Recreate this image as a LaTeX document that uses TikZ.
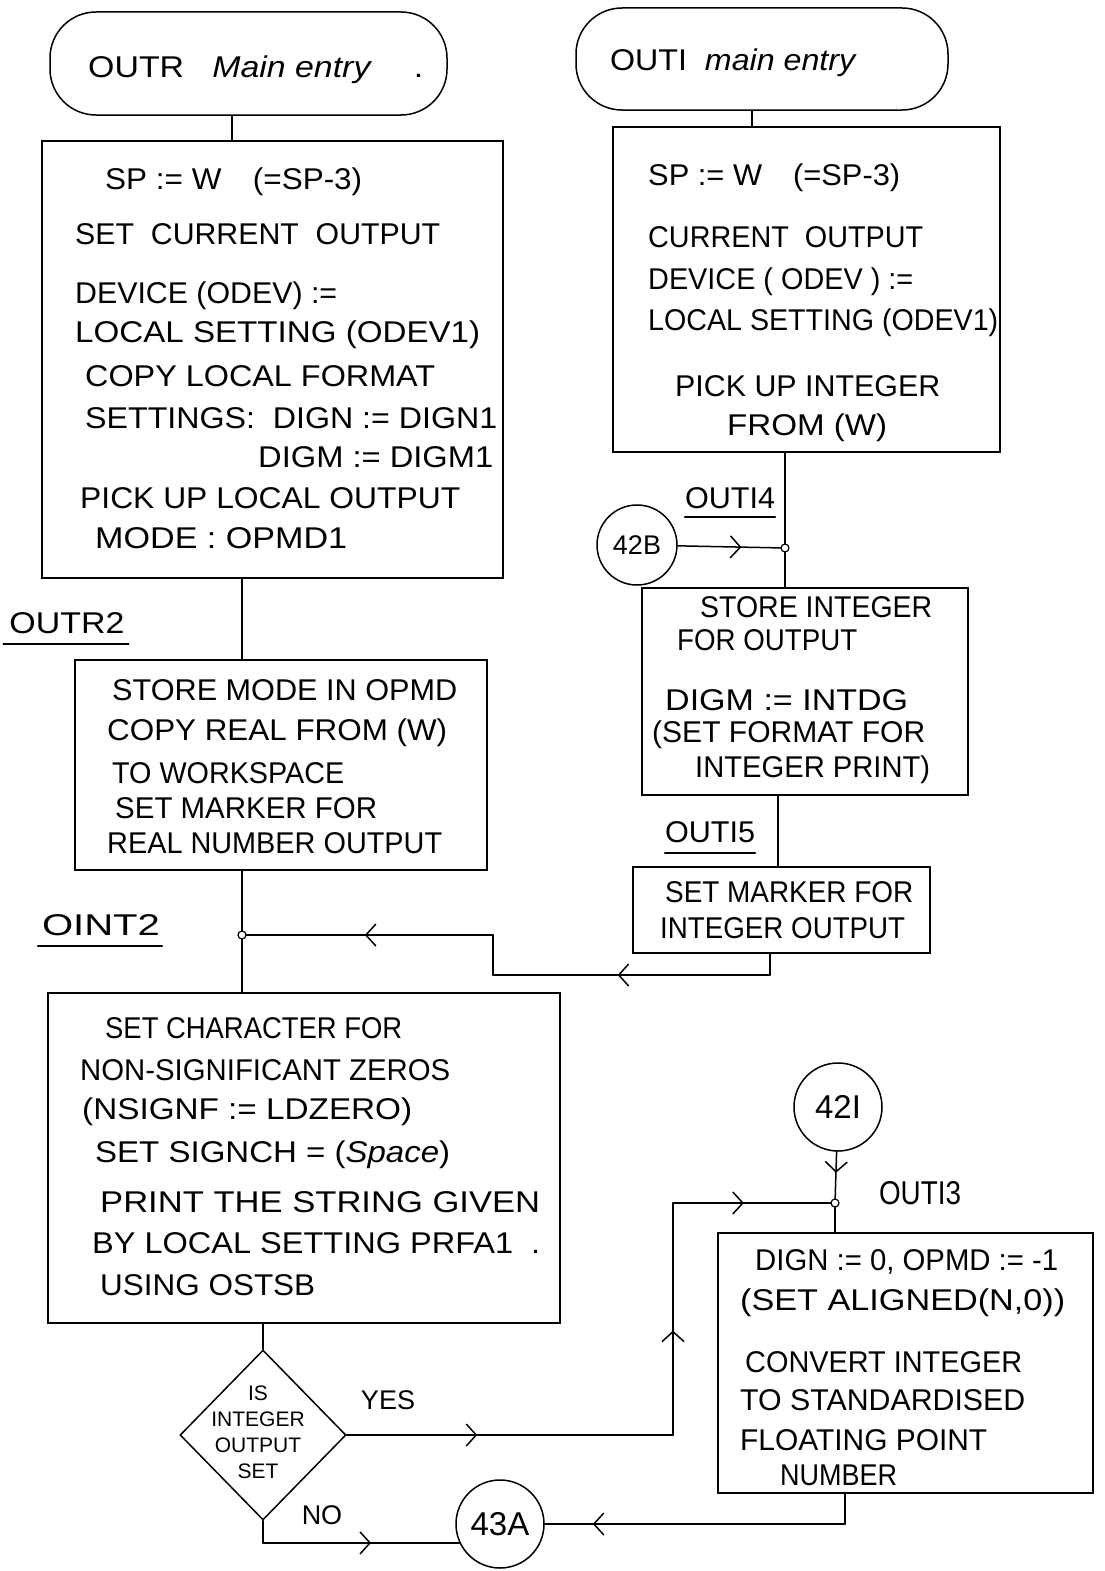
\documentclass[tikz,border=0pt]{standalone}
\usepackage{fontspec}
\usepackage{graphicx}
\setmainfont{Liberation Sans}
\usetikzlibrary{shapes.geometric,arrows.meta,decorations.markings}
\newcounter{lnc}
\newcommand\WL[4]{\stepcounter{lnc}\node[txt] (w\arabic{lnc}) at (#1,#2) {\resizebox{#3pt}{\height}{#4}};}
\newcommand\RB[2]{\resizebox{#1pt}{\height}{#2}}
\begin{document}
\begin{tikzpicture}[x=1pt,y=-1pt,
  ln/.style={line width=1.5pt, line cap=round, line join=round},
  boxn/.style={draw, line width=1.5pt, inner sep=0pt},
  term/.style={draw, line width=1.5pt, rounded corners=46pt, inner sep=0pt},
  conn/.style={draw, circle, line width=1.5pt, inner sep=0pt},
  jn/.style={draw, circle, line width=1.2pt, minimum size=8pt, inner sep=0pt, fill=white},
  txt/.style={anchor=west, inner sep=0pt, font=\fontsize{30}{34}\selectfont},
  lab/.style={anchor=center, inner sep=0pt, font=\fontsize{30}{34}\selectfont},
  marr/.style={postaction={decorate}, decoration={markings, mark=at position #1 with {\arrow{Straight Barb[length=10pt,width=22pt]}}}},
]
\useasboundingbox (0,0) rectangle (1104,1571);
\fill[white] (0,0) rectangle (1104,1571);

% terminals
\node[term, minimum width=397pt, minimum height=103pt] (T1) at (248.5,63.5) {};
\node[term, minimum width=372pt, minimum height=102pt] (T2) at (762,59) {};
\WL{88}{70}{335}{OUTR\ \ \ {\itshape Main entry}\quad\ .}
\WL{610}{63}{245}{OUTI\ \ {\itshape main entry}}

% boxes
\node[boxn, minimum width=461pt, minimum height=437pt] (B1) at (272.5,359.5) {};
\node[boxn, minimum width=387pt, minimum height=325pt] (B2) at (806.5,289.5) {};
\node[boxn, minimum width=326pt, minimum height=207pt] (B3) at (805,691.5) {};
\node[boxn, minimum width=297pt, minimum height=86pt] (B4) at (781.5,910) {};
\node[boxn, minimum width=412pt, minimum height=210pt] (B5) at (281,765) {};
\node[boxn, minimum width=512pt, minimum height=330pt] (B6) at (304,1158) {};
\node[boxn, minimum width=375pt, minimum height=260pt] (B7) at (905.5,1363) {};
\node[draw, diamond, line width=1.5pt, minimum width=166pt, minimum height=170pt, inner sep=0pt] (D) at (263,1435) {};

% connector circles
\node[conn, minimum size=80pt, font=\fontsize{27}{30}\selectfont] (C42B) at (637,545) {42B};
\node[conn, minimum size=88pt, font=\fontsize{33}{36}\selectfont] (C42I) at (838,1107) {42I};
\node[conn, minimum size=88pt, font=\fontsize{33}{36}\selectfont] (C43) at (500,1524) {43A};

% junctions
\node[jn] (J1) at (785,548) {};
\node[jn] (J2) at (242,935) {};
\node[jn] (J3) at (835,1203) {};

% box texts
\WL{105}{182}{257}{SP := W\quad (=SP-3)}
\WL{75}{234}{365}{SET\ \ CURRENT\ \ OUTPUT}
\WL{75}{296}{262}{DEVICE (ODEV) :=}
\WL{75}{335}{405}{LOCAL SETTING (ODEV1)}
\WL{85}{376}{350}{COPY LOCAL FORMAT}
\WL{85}{418}{412}{SETTINGS:\ \ DIGN := DIGN1}
\WL{258}{457}{235}{DIGM := DIGM1}
\WL{80}{498}{380}{PICK UP LOCAL OUTPUT}
\WL{95}{538}{252}{MODE : OPMD1}

\WL{648}{178}{252}{SP := W\quad (=SP-3)}
\WL{648}{237}{275}{CURRENT\ \ OUTPUT}
\WL{648}{282}{265}{DEVICE ( ODEV ) :=}
\WL{648}{323}{350}{LOCAL SETTING (ODEV1)}
\WL{675}{386}{265}{PICK UP INTEGER}
\WL{727}{428}{160}{FROM (W)}

\WL{700}{607}{232}{STORE INTEGER}
\WL{677}{640}{180}{FOR OUTPUT}
\WL{665}{700}{243}{DIGM := INTDG}
\WL{652}{735}{273}{(SET FORMAT FOR}
\WL{695}{770}{235}{INTEGER PRINT)}

\WL{665}{892}{248}{SET MARKER FOR}
\WL{660}{928}{245}{INTEGER OUTPUT}

\WL{112}{690}{345}{STORE MODE IN OPMD}
\WL{107}{733}{340}{COPY REAL FROM (W)}
\WL{112}{773}{232}{TO WORKSPACE}
\WL{115}{808}{262}{SET MARKER FOR}
\WL{107}{843}{335}{REAL NUMBER OUTPUT}

\WL{105}{1028}{297}{SET CHARACTER FOR}
\WL{80}{1070}{370}{NON-SIGNIFICANT ZEROS}
\WL{82}{1112}{330}{(NSIGNF := LDZERO)}
\WL{95}{1155}{355}{SET SIGNCH = ({\itshape Space})}
\WL{100}{1202}{440}{PRINT THE STRING GIVEN}
\WL{92}{1243}{448}{BY LOCAL SETTING PRFA1\ \ .}
\WL{100}{1285}{215}{USING OSTSB}

\WL{755}{1262}{303}{DIGN := 0, OPMD := -1}
\WL{740}{1303}{325}{(SET ALIGNED(N,0))}
\WL{745}{1362}{277}{CONVERT INTEGER}
\WL{740}{1400}{285}{TO STANDARDISED}
\WL{740}{1440}{247}{FLOATING POINT}
\WL{780}{1475}{117}{NUMBER}

\node[align=center, inner sep=0pt, font=\fontsize{21}{26}\selectfont] (Dt) at (258,1432) {IS\\INTEGER\\OUTPUT\\SET};

% labels
\node[lab] (OUTR2) at (67,623) {\RB{115}{OUTR2}};
\node[lab] (OINT2) at (101,925) {\RB{118}{OINT2}};
\node[lab] (OUTI4) at (730,498) {\RB{90}{OUTI4}};
\node[lab] (OUTI5) at (710,832) {\RB{90}{OUTI5}};
\node[lab, font=\fontsize{33}{36}\selectfont] (OUTI3) at (920,1193) {\RB{82}{OUTI3}};
\node[lab, font=\fontsize{27}{30}\selectfont] (yes) at (388,1400) {YES};
\node[lab, font=\fontsize{27}{30}\selectfont] (no) at (322,1515) {NO};
\draw[ln] ([xshift=-6pt,yshift=-10pt]OUTR2.south west) -- ([xshift=4pt,yshift=-10pt]OUTR2.south east);
\draw[ln] ([xshift=-4pt,yshift=-10pt]OINT2.south west) -- ([xshift=2pt,yshift=-10pt]OINT2.south east);
\draw[ln] ([yshift=-8pt]OUTI4.south west) -- ([yshift=-8pt]OUTI4.south east);
\draw[ln] ([yshift=-10pt]OUTI5.south west) -- ([yshift=-10pt]OUTI5.south east);

% coordinates for connector bends
\coordinate (x232) at (232,0);
\coordinate (x752) at (752,0);
\coordinate (x778) at (778,0);
\coordinate (x845) at (845,0);
\coordinate (Y1) at (673,0);
\coordinate (L1) at (770,975);
\coordinate (L2) at (493,975);
\coordinate (L3) at (493,935);

% connectors
\draw[ln] (T1.south -| x232) -- (B1.north -| x232);
\draw[ln] (T2.south -| x752) -- (B2.north -| x752);
\draw[ln] (B2.south -| J1) -- (J1);
\draw[ln] (J1) -- (B3.north -| J1);
\draw[ln, marr=0.62] (C42B) -- (J1);
\draw[ln] (B3.south -| x778) -- (B4.north -| x778);
\draw[ln] (B1.south -| J2) -- (B5.north -| J2);
\draw[ln] (B5.south -| J2) -- (J2);
\draw[ln] (J2) -- (B6.north -| J2);
\draw[ln] (B4.south -| L1) -- (L1);
\draw[ln, marr=0.55] (L1) -- (L2);
\draw[ln] (L2) -- (L3);
\draw[ln, marr=0.52] (L3) -- (J2);
\draw[ln] (B6.south -| D) -- (D.north);
\draw[ln, marr=0.4] (D.east) -- (D.east -| Y1);
\draw[ln, marr=0.45] (D.east -| Y1) -- (J3 -| Y1);
\draw[ln, marr=0.45] (J3 -| Y1) -- (J3);
\draw[ln, marr=0.45] (C42I) -- (J3);
\draw[ln] (J3) -- (B7.north -| J3);
\draw[ln] (B7.south -| x845) -- (C43.east -| x845);
\draw[ln, marr=0.84] (C43.east -| x845) -- (C43.east);
\draw[ln] (D.south) -- (D.south |- C43.205);
\draw[ln, marr=0.55] (D.south |- C43.205) -- (C43.205);
\end{tikzpicture}
\end{document}
